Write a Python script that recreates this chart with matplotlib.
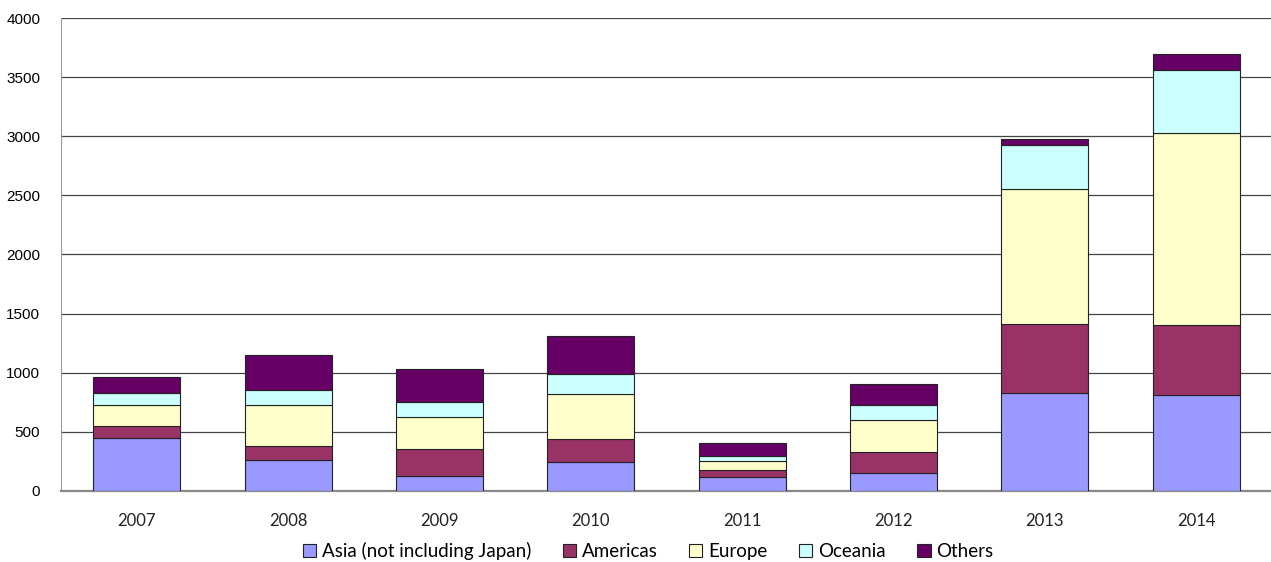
import matplotlib
matplotlib.use("Agg")
import matplotlib.pyplot as plt
import numpy as np

years = ["2007", "2008", "2009", "2010", "2011", "2012", "2013", "2014"]
asia = [446, 265, 130, 249, 118, 156, 829, 812]
americas = [106, 113, 223, 188, 63, 171, 587, 590]
europe = [178, 350, 276, 381, 76, 271, 1139, 1622]
oceania = [99, 124, 124, 172, 37, 127, 367, 538]
others = [133, 301, 282, 325, 112, 184, 51, 132]

series = [
    ("Asia (not including Japan)", asia, "#9999FF"),
    ("Americas", americas, "#993366"),
    ("Europe", europe, "#FFFFCC"),
    ("Oceania", oceania, "#CCFFFF"),
    ("Others", others, "#660066"),
]

fig = plt.figure(figsize=(12.71, 5.62), dpi=100)
ax = fig.add_axes([61 / 1271, 1 - 491 / 562, 1211 / 1271, 473 / 562])

x = np.arange(len(years))
bottom = np.zeros(len(years))
for label, vals, color in series:
    ax.bar(x, vals, width=0.575, bottom=bottom, color=color, edgecolor="#222222",
           linewidth=0.8, label=label, zorder=3)
    bottom += np.array(vals)

ax.set_xlim(-0.5, len(years) - 0.5)
ax.set_ylim(0, 4000)
ax.set_yticks(range(0, 4001, 500))
ax.yaxis.grid(True, color="#444444", linewidth=0.9, zorder=0)
ax.set_axisbelow(True)

for side in ("top", "right"):
    ax.spines[side].set_visible(False)
ax.spines["left"].set_color("#999999")
ax.spines["bottom"].set_color("#888888")
ax.spines["bottom"].set_linewidth(1.6)

ax.set_xticks(x)
ax.set_xticklabels(years, fontsize=12, family=["Lato", "DejaVu Sans"], color="#222222")
ax.tick_params(axis="x", length=0, pad=16)
ax.tick_params(axis="y", length=0, pad=15, labelsize=11)
for t in ax.get_yticklabels():
    t.set_family(["Liberation Sans", "DejaVu Sans"])

fig.legend(loc="center", bbox_to_anchor=(648 / 1271, 1 - 551 / 562), ncol=5,
           frameon=False, prop={"family": ["Lato", "DejaVu Sans"], "size": 13.5},
           handlelength=0.7, handleheight=0.7, handletextpad=0.3, columnspacing=1.7)

fig.savefig("out.png", dpi=100)
